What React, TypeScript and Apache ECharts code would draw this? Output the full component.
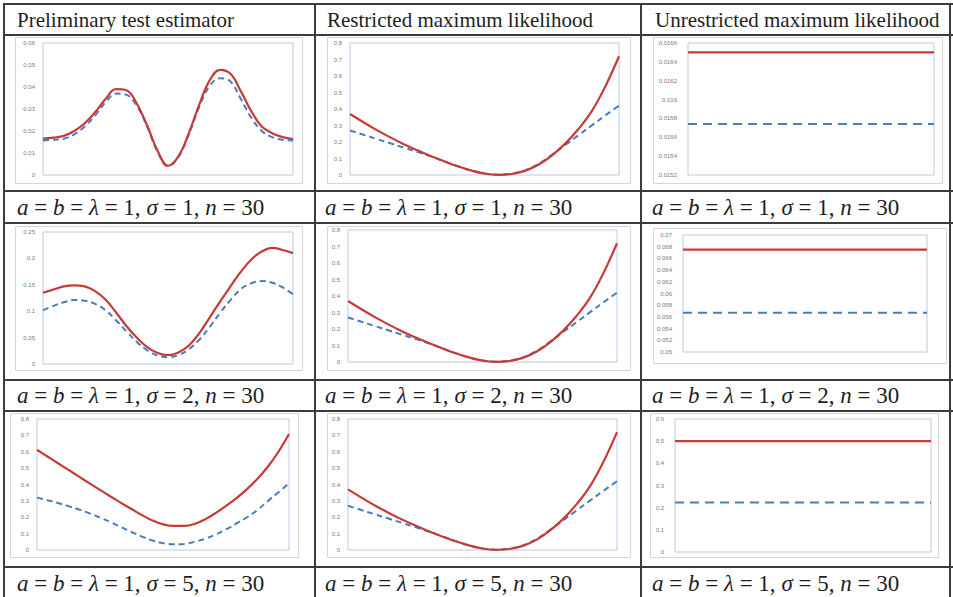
import React, { useEffect, useRef } from "react";
import * as echarts from "echarts";

// ---------- categories ----------
const CAT25 = ["0","1","2","3","4","5","6","7","8","9","10","11","12","13","14","15","16","17","18","19","20","21","22","23","24"];
const CAT21 = ["0","1","2","3","4","5","6","7","8","9","10","11","12","13","14","15","16","17","18","19","20"];
const CAT2 = ["start", "end"];

// ---------- headers / captions ----------
const HEADERS = ["Preliminary test estimator", "Restricted maximum likelihood", "Unrestricted maximum likelihood"];
const SIGMAS = [1, 2, 5];

// ---------- tick labels ----------
const TICKS_PTE_S1 = [0, 0.01, 0.02, 0.03, 0.04, 0.05, 0.06];
const TICKS_RML = [0, 0.1, 0.2, 0.3, 0.4, 0.5, 0.6, 0.7, 0.8];
const TICKS_URML_S1 = [0.0152, 0.0154, 0.0156, 0.0158, 0.016, 0.0162, 0.0164, 0.0166];
const TICKS_PTE_S2 = [0, 0.05, 0.1, 0.15, 0.2, 0.25];
const TICKS_URML_S2 = [0.05, 0.052, 0.054, 0.056, 0.058, 0.06, 0.062, 0.064, 0.066, 0.068, 0.07];
const TICKS_PTE_S5 = [0, 0.1, 0.2, 0.3, 0.4, 0.5, 0.6, 0.7, 0.8];
const TICKS_URML_S5 = [0, 0.1, 0.2, 0.3, 0.4, 0.5, 0.6];

// ---------- series values ----------
const PTE_S1_RED = [0.0165,0.017,0.0178,0.02,0.0235,0.0285,0.0345,0.039,0.0385,0.0325,0.0225,0.011,0.0042,0.0085,0.019,0.032,0.043,0.0478,0.046,0.038,0.029,0.022,0.019,0.0172,0.0163];
const PTE_S1_BLUE = [0.0157,0.016,0.0165,0.0185,0.022,0.027,0.033,0.037,0.0365,0.0315,0.022,0.0105,0.004,0.0082,0.0185,0.031,0.0405,0.044,0.0425,0.0345,0.026,0.02,0.0172,0.016,0.0157];

const RML_RED = [0.37,0.32,0.272,0.228,0.187,0.15,0.115,0.083,0.053,0.028,0.009,0.001,0.006,0.025,0.062,0.118,0.19,0.28,0.39,0.54,0.72];
const RML_BLUE = [0.27,0.244,0.218,0.192,0.166,0.14,0.113,0.084,0.054,0.027,0.009,0.002,0.008,0.028,0.066,0.122,0.182,0.242,0.302,0.362,0.42];

const URML_S1_RED = [0.0165, 0.0165];
const URML_S1_BLUE = [0.01574, 0.01574];

const PTE_S2_RED = [0.135,0.141,0.147,0.149,0.147,0.138,0.122,0.098,0.072,0.05,0.032,0.021,0.017,0.022,0.035,0.058,0.088,0.118,0.147,0.175,0.198,0.213,0.22,0.216,0.21];
const PTE_S2_BLUE = [0.102,0.11,0.117,0.121,0.12,0.114,0.102,0.083,0.062,0.042,0.026,0.016,0.013,0.017,0.028,0.046,0.07,0.097,0.121,0.142,0.153,0.157,0.154,0.145,0.132];

const URML_S2_RED = [0.0675, 0.0675];
const URML_S2_BLUE = [0.0567, 0.0567];

const PTE_S5_RED = [0.612,0.571,0.53,0.489,0.448,0.407,0.367,0.327,0.288,0.25,0.213,0.18,0.157,0.147,0.147,0.159,0.187,0.225,0.269,0.317,0.372,0.435,0.51,0.6,0.708];
const PTE_S5_BLUE = [0.32,0.304,0.287,0.268,0.247,0.224,0.198,0.17,0.14,0.11,0.082,0.058,0.042,0.035,0.037,0.05,0.068,0.094,0.126,0.162,0.2,0.244,0.3,0.352,0.408];

const URML_S5_RED = [0.5, 0.5];
const URML_S5_BLUE = [0.2237, 0.2237];

// ---------- layout ----------
type Cell = {
  grid: [number, number, number, number];
  outer: [number, number, number, number];
  ticks: number[];
  cats: string[];
  red: number[];
  blue: number[];
  flat: boolean;
};

const CELLS: Cell[] = [
  { grid: [43, 43, 250, 132], outer: [15, 37, 287, 146], ticks: TICKS_PTE_S1, cats: CAT25, red: PTE_S1_RED, blue: PTE_S1_BLUE, flat: false },
  { grid: [350, 43, 269, 132], outer: [327, 37, 303, 146], ticks: TICKS_RML, cats: CAT21, red: RML_RED, blue: RML_BLUE, flat: false },
  { grid: [688, 43, 246, 132], outer: [653, 37, 289, 146], ticks: TICKS_URML_S1, cats: CAT2, red: URML_S1_RED, blue: URML_S1_BLUE, flat: true },
  { grid: [43, 232, 250, 132], outer: [15, 226, 287, 144], ticks: TICKS_PTE_S2, cats: CAT25, red: PTE_S2_RED, blue: PTE_S2_BLUE, flat: false },
  { grid: [348, 230, 269, 132], outer: [327, 226, 303, 144], ticks: TICKS_RML, cats: CAT21, red: RML_RED, blue: RML_BLUE, flat: false },
  { grid: [683, 235, 244, 117], outer: [653, 228, 293, 135], ticks: TICKS_URML_S2, cats: CAT2, red: URML_S2_RED, blue: URML_S2_BLUE, flat: true },
  { grid: [37, 419, 252, 131], outer: [10, 413, 288, 144], ticks: TICKS_PTE_S5, cats: CAT25, red: PTE_S5_RED, blue: PTE_S5_BLUE, flat: false },
  { grid: [348, 419, 269, 131], outer: [327, 413, 303, 144], ticks: TICKS_RML, cats: CAT21, red: RML_RED, blue: RML_BLUE, flat: false },
  { grid: [675, 419, 256, 133], outer: [650, 413, 288, 144], ticks: TICKS_URML_S5, cats: CAT2, red: URML_S5_RED, blue: URML_S5_BLUE, flat: true },
];

const TABLE_V = [4, 315, 641, 950];
const TABLE_H = [4, 35, 191, 223, 380, 411, 567];
const CAPTION_Y = [207, 395, 583];
const COL_X = [17, 325, 652];
const HEADER_X = [17, 327, 655];

const RED = "#c43b37";
const BLUE = "#4a7cbf";

function fmt(v: number) {
  return String(Number(v.toFixed(6)));
}

function buildOption() {
  const grids: any[] = [];
  const xAxes: any[] = [];
  const yAxes: any[] = [];
  const series: any[] = [];
  CELLS.forEach((c, i) => {
    grids.push({
      left: c.grid[0], top: c.grid[1], width: c.grid[2], height: c.grid[3],
      show: true, borderColor: "#b8cbe3", borderWidth: 1, backgroundColor: "transparent",
      containLabel: false,
    });
    xAxes.push({
      type: "category", gridIndex: i, data: c.cats, boundaryGap: false,
      axisLine: { show: false }, axisTick: { show: false }, axisLabel: { show: false }, splitLine: { show: false },
    });
    yAxes.push({
      type: "value", gridIndex: i, min: c.ticks[0], max: c.ticks[c.ticks.length - 1],
      axisLine: { show: false }, axisTick: { show: false }, splitLine: { show: false },
      axisLabel: {
        customValues: c.ticks, formatter: (v: number) => fmt(v),
        fontSize: 6, color: "#7a7a7a", fontFamily: "Liberation Sans", margin: c.flat ? 11 : 8,
      },
    });
    series.push({
      type: "line", xAxisIndex: i, yAxisIndex: i, data: c.red, smooth: c.flat ? false : 0.4,
      showSymbol: false, lineStyle: { color: RED, width: 2.2 }, z: 3,
    });
    series.push({
      type: "line", xAxisIndex: i, yAxisIndex: i, data: c.blue, smooth: c.flat ? false : 0.4,
      showSymbol: false, lineStyle: { color: BLUE, width: 2, type: c.flat ? [9, 6] : [6, 4] }, z: 2,
    });
  });

  const elements: any[] = [];
  CELLS.forEach((c) => {
    elements.push({
      type: "rect", z: 0, silent: true,
      shape: { x: c.outer[0] + 0.5, y: c.outer[1] + 0.5, width: c.outer[2], height: c.outer[3] },
      style: { fill: "none", stroke: "#d6d6d6", lineWidth: 1 },
    });
  });
  TABLE_V.forEach((x) => {
    elements.push({ type: "line", z: 10, silent: true, shape: { x1: x, y1: TABLE_H[0], x2: x, y2: 597 }, style: { stroke: "#3c3c3c", lineWidth: 2 } });
  });
  TABLE_H.forEach((y) => {
    elements.push({ type: "line", z: 10, silent: true, shape: { x1: TABLE_V[0] - 1, y1: y, x2: 953, y2: y }, style: { stroke: "#3c3c3c", lineWidth: 2 } });
  });
  HEADERS.forEach((h, i) => {
    elements.push({
      type: "text", z: 10, x: HEADER_X[i], y: 20,
      style: { text: h, fontFamily: "Liberation Serif", fontSize: 21, fill: "#1e1e1e", verticalAlign: "middle", align: "left" },
    });
  });
  SIGMAS.forEach((s, r) => {
    COL_X.forEach((x) => {
      elements.push({
        type: "text", z: 10, x, y: CAPTION_Y[r],
        style: {
          text: `{i|a} = {i|b} = {i|λ} = 1, {i|σ} = ${s}, {i|n} = 30`,
          fontFamily: "Liberation Serif", fontSize: 23, fill: "#1e1e1e", verticalAlign: "middle", align: "left",
          rich: { i: { fontStyle: "italic", fontFamily: "Liberation Serif", fontSize: 23, fill: "#1e1e1e" } },
        },
      });
    });
  });

  return {
    animation: false,
    backgroundColor: "#ffffff",
    grid: grids,
    xAxis: xAxes,
    yAxis: yAxes,
    series,
    graphic: { elements },
  };
}

export default function App() {
  const ref = useRef<HTMLDivElement>(null);
  useEffect(() => {
    document.body.style.margin = "0";
    const chart = echarts.init(ref.current!, null, { renderer: "svg", width: 953, height: 597 });
    chart.setOption(buildOption() as any);
    return () => chart.dispose();
  }, []);
  return <div ref={ref} style={{ width: 953, height: 597, background: "#fff" }} />;
}
